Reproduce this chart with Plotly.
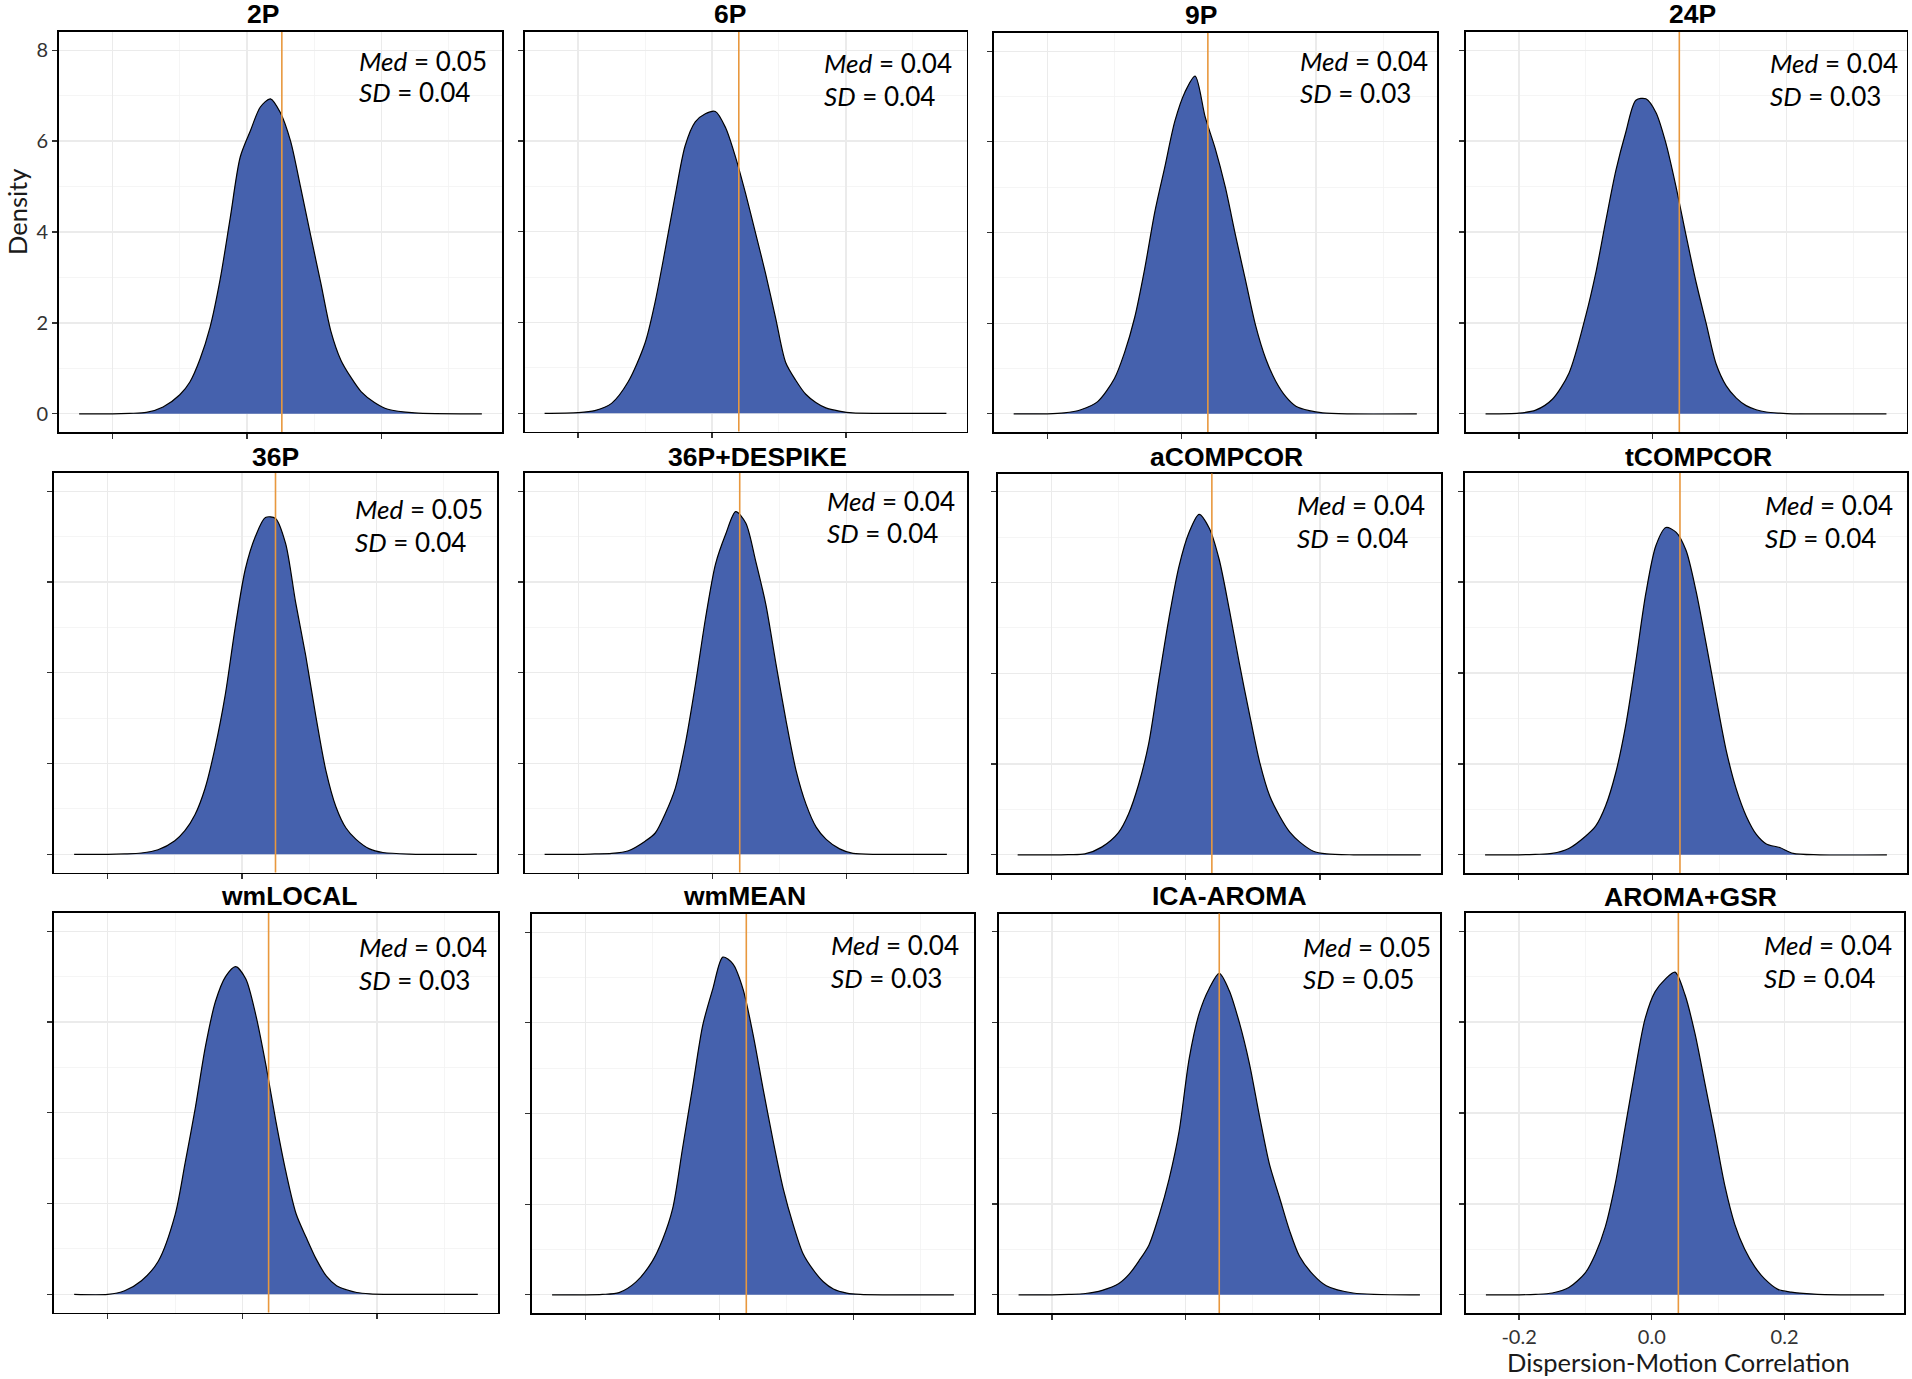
import plotly.graph_objects as go

# ---------------- data ----------------
PIPELINES = ["2P", "6P", "9P", "24P",
             "36P", "36P+DESPIKE", "aCOMPCOR", "tCOMPCOR",
             "wmLOCAL", "wmMEAN", "ICA-AROMA", "AROMA+GSR"]

X_GRID = [-0.25, -0.2, -0.175, -0.15, -0.125, -0.1, -0.085, -0.07, -0.055, -0.04,
          -0.025, -0.01, 0.005, 0.02, 0.035, 0.05, 0.065, 0.08, 0.095, 0.11,
          0.125, 0.14, 0.155, 0.17, 0.19, 0.21, 0.25, 0.35]

DENS_2P = [0, 0.0, 0.01, 0.03, 0.15, 0.42, 0.7, 1.2, 1.9, 2.95, 4.3, 5.65, 6.22, 6.75,
           6.93, 6.62, 6.0, 4.98, 3.92, 2.88, 1.82, 1.18, 0.8, 0.49, 0.25, 0.1, 0.02, 0]
DENS_6P = [0, 0.015, 0.06, 0.22, 0.7, 1.55, 2.45, 3.6, 4.8, 5.9, 6.42, 6.6, 6.65, 6.3,
           5.65, 4.85, 3.97, 3.08, 2.1, 1.12, 0.73, 0.42, 0.24, 0.12, 0.05, 0.01, 0, 0]
DENS_9P = [0, 0, 0.02, 0.09, 0.27, 0.78, 1.35, 2.12, 3.2, 4.45, 5.45, 6.46, 7.1, 7.45,
           6.55, 5.85, 5.0, 3.95, 2.95, 1.95, 1.22, 0.72, 0.38, 0.17, 0.07, 0.02, 0, 0]
DENS_24P = [0, 0.015, 0.08, 0.32, 0.9, 2.16, 3.1, 4.25, 5.35, 6.2, 6.9, 6.93, 6.63, 5.95,
            5.0, 3.93, 2.9, 2.0, 1.1, 0.62, 0.35, 0.18, 0.09, 0.04, 0.015, 0, 0, 0]
DENS_36P = [0, 0, 0.01, 0.03, 0.1, 0.3, 0.52, 0.87, 1.45, 2.35, 3.5, 5.0, 6.28, 7.0,
            7.42, 7.4, 6.85, 5.55, 4.38, 3.05, 1.85, 1.05, 0.58, 0.33, 0.12, 0.04, 0.005, 0]
DENS_36P_DESPIKE = [0, 0, 0.01, 0.02, 0.08, 0.29, 0.47, 0.9, 1.46, 2.45, 3.75, 5.2, 6.4, 7.05,
                    7.55, 7.3, 6.45, 5.5, 4.2, 2.95, 1.85, 1.1, 0.6, 0.33, 0.12, 0.02, 0, 0]
DENS_ACOMPCOR = [0, 0, 0.005, 0.02, 0.17, 0.49, 0.9, 1.55, 2.45, 3.85, 5.2, 6.35, 7.1, 7.5,
                 7.2, 6.5, 5.4, 4.21, 3.1, 2.05, 1.3, 0.85, 0.5, 0.28, 0.08, 0.02, 0, 0]
DENS_TCOMPCOR = [0, 0, 0.01, 0.03, 0.14, 0.41, 0.63, 1.08, 1.8, 2.85, 4.25, 5.75, 6.8, 7.2,
                 7.1, 6.7, 5.8, 4.65, 3.45, 2.3, 1.45, 0.85, 0.45, 0.24, 0.16, 0.03, 0, 0]
DENS_WMLOCAL = [0, 0, 0.08, 0.3, 0.73, 1.75, 2.9, 4.1, 5.45, 6.45, 7.0, 7.22, 6.95, 6.15,
                5.05, 3.8, 2.68, 1.77, 1.25, 0.77, 0.4, 0.19, 0.1, 0.04, 0.01, 0, 0, 0]
DENS_WMMEAN = [0, 0, 0.01, 0.05, 0.28, 0.75, 1.22, 1.9, 3.25, 4.6, 5.95, 6.75, 7.45, 7.3,
               6.75, 5.75, 4.55, 3.4, 2.35, 1.55, 0.9, 0.55, 0.29, 0.13, 0.04, 0.01, 0, 0]
DENS_ICA_AROMA = [0, 0, 0.01, 0.03, 0.1, 0.25, 0.45, 0.75, 1.1, 1.75, 2.55, 3.6, 5.2, 6.2,
                  6.75, 7.08, 6.7, 6.0, 5.1, 3.95, 2.88, 2.15, 1.42, 0.85, 0.45, 0.2, 0.04, 0]
DENS_AROMA_GSR = [0, 0, 0.01, 0.04, 0.16, 0.49, 0.9, 1.5, 2.45, 3.7, 4.95, 6.08, 6.67, 6.94,
                  7.1, 6.6, 5.75, 4.65, 3.55, 2.4, 1.55, 1.0, 0.62, 0.35, 0.12, 0.06, 0.01, 0]

MEDIAN_LINE = [0.052, 0.040, 0.039, 0.040, 0.050, 0.041, 0.039, 0.041, 0.039, 0.040, 0.050, 0.040]
MED_TEXT = ["0.05", "0.04", "0.04", "0.04", "0.05", "0.04", "0.04", "0.04", "0.04", "0.04", "0.05", "0.04"]
SD_TEXT = ["0.04", "0.04", "0.03", "0.03", "0.04", "0.04", "0.04", "0.04", "0.03", "0.03", "0.05", "0.04"]

X_TICKS = [-0.2, 0.0, 0.2]
X_TICK_TEXT = ["-0.2", "0.0", "0.2"]
Y_TICKS = [0, 2, 4, 6, 8]
Y_TICK_TEXT = ["0", "2", "4", "6", "8"]

DENSITIES = [DENS_2P, DENS_6P, DENS_9P, DENS_24P, DENS_36P, DENS_36P_DESPIKE,
             DENS_ACOMPCOR, DENS_TCOMPCOR, DENS_WMLOCAL, DENS_WMMEAN,
             DENS_ICA_AROMA, DENS_AROMA_GSR]

# ---------------- layout geometry (pixels) ----------------
W, H = 1912, 1379
# panel boxes: left, right, top, bottom
PANELS = [
    (59, 502, 32, 432), (524.5, 966.5, 32, 431.5), (993.5, 1437, 33, 432), (1465.5, 1906.5, 32, 432),
    (54, 497, 473, 872.5), (524.5, 967, 473, 872.5), (997.5, 1441, 473.5, 873), (1465, 1907, 473, 873),
    (54, 498, 913, 1312.5), (532, 974, 914, 1313), (998.5, 1440, 913.5, 1313), (1466, 1904, 913, 1313),
]
TITLE_POS = [(263, 14), (730, 14), (1201, 15), (1692, 14),
             (275.5, 457), (757, 457), (1226, 457), (1698, 457),
             (289, 896), (744, 896), (1229, 896), (1690, 896.5)]
STAT_POS = [(356.5, 61, 92), (821.5, 63, 96), (1298, 61, 93), (1768, 62.7, 95.7),
            (352.7, 509.3, 542.3), (825, 501, 533.3), (1295, 505, 537.7), (1763, 505, 537.7),
            (356.7, 946.7, 980), (828.8, 945, 978.3), (1301, 946.7, 979.3), (1761.7, 945, 978.3)]

FILL = "#4561AD"
ORANGE = "#E8983E"
TEXT_FONT = "Lato, 'Open Sans', sans-serif"
TITLE_FONT = "'Liberation Sans', Arial, sans-serif"

fig = go.Figure()
layout = dict(width=W, height=H, margin=dict(l=0, r=0, t=0, b=0),
              paper_bgcolor="white", plot_bgcolor="white", showlegend=False)
shapes, annotations = [], []

for i, name in enumerate(PIPELINES):
    sfx = "" if i == 0 else str(i + 1)
    L, R, T, B = PANELS[i]
    fig.add_trace(go.Scatter(
        x=X_GRID, y=DENSITIES[i], xaxis="x" + sfx, yaxis="y" + sfx,
        mode="lines", fill="tozeroy", fillcolor=FILL,
        line=dict(color="black", width=1.2, shape="spline", smoothing=0.8),
        hoverinfo="skip"))
    layout["xaxis" + sfx] = dict(
        domain=[L / W, R / W], range=[-0.28, 0.38], anchor="y" + sfx,
        tickvals=X_TICKS, ticktext=X_TICK_TEXT, showticklabels=(i == 11),
        ticks="outside", ticklen=5, tickwidth=1.2, tickcolor="#333",
        showline=True, mirror=True, linecolor="black", linewidth=1.8,
        showgrid=True, gridcolor="#EBEBEB", gridwidth=1.2, zeroline=False,
        minor=dict(tickvals=[-0.1, 0.1, 0.3], showgrid=True, gridcolor="#F3F3F3", gridwidth=0.8),
        tickfont=dict(family=TEXT_FONT, size=20, color="#333"), fixedrange=True)
    layout["yaxis" + sfx] = dict(
        domain=[1 - B / H, 1 - T / H], range=[-0.4, 8.4], anchor="x" + sfx,
        tickvals=Y_TICKS, ticktext=Y_TICK_TEXT, showticklabels=(i == 0),
        ticks="outside", ticklen=5, tickwidth=1.2, tickcolor="#333",
        showline=True, mirror=True, linecolor="black", linewidth=1.8,
        showgrid=True, gridcolor="#EBEBEB", gridwidth=1.2, zeroline=False,
        minor=dict(tickvals=[1, 3, 5, 7], showgrid=True, gridcolor="#F3F3F3", gridwidth=0.8),
        tickfont=dict(family=TEXT_FONT, size=20, color="#333"), fixedrange=True)
    shapes.append(dict(type="line", xref="x" + sfx, yref="y" + sfx + " domain",
                       x0=MEDIAN_LINE[i], x1=MEDIAN_LINE[i], y0=0, y1=1,
                       line=dict(color=ORANGE, width=1.6), layer="above"))
    tx, ty = TITLE_POS[i]
    annotations.append(dict(xref="paper", yref="paper", x=tx / W, y=1 - ty / H,
                            text="<b>" + name + "</b>", showarrow=False,
                            xanchor="center", yanchor="middle",
                            font=dict(family=TITLE_FONT, size=26.5, color="black")))
    sx, sy1, sy2 = STAT_POS[i]
    annotations.append(dict(xref="paper", yref="paper", x=sx / W, y=1 - sy1 / H,
                            text="<i>Med</i> = " + MED_TEXT[i], showarrow=False,
                            xanchor="left", yanchor="middle",
                            font=dict(family=TEXT_FONT, size=26, color="black")))
    annotations.append(dict(xref="paper", yref="paper", x=sx / W, y=1 - sy2 / H,
                            text="<i>SD</i> = " + SD_TEXT[i], showarrow=False,
                            xanchor="left", yanchor="middle",
                            font=dict(family=TEXT_FONT, size=26, color="black")))

annotations.append(dict(xref="paper", yref="paper", x=0, y=1 - 212 / H,
                        text="Density", textangle=-90, showarrow=False,
                        xanchor="left", yanchor="middle",
                        font=dict(family=TEXT_FONT, size=25.5, color="#1a1a1a")))
annotations.append(dict(xref="paper", yref="paper", x=1678 / W, y=0,
                        text="Dispersion-Motion Correlation", showarrow=False,
                        xanchor="center", yanchor="bottom",
                        font=dict(family=TEXT_FONT, size=25.5, color="#1a1a1a")))

layout["shapes"] = shapes
layout["annotations"] = annotations
fig.update_layout(**layout)
fig.write_html("out.html", config={"displayModeBar": False, "staticPlot": True},
               post_script="document.body.style.margin='0';document.body.style.overflow='hidden';")
